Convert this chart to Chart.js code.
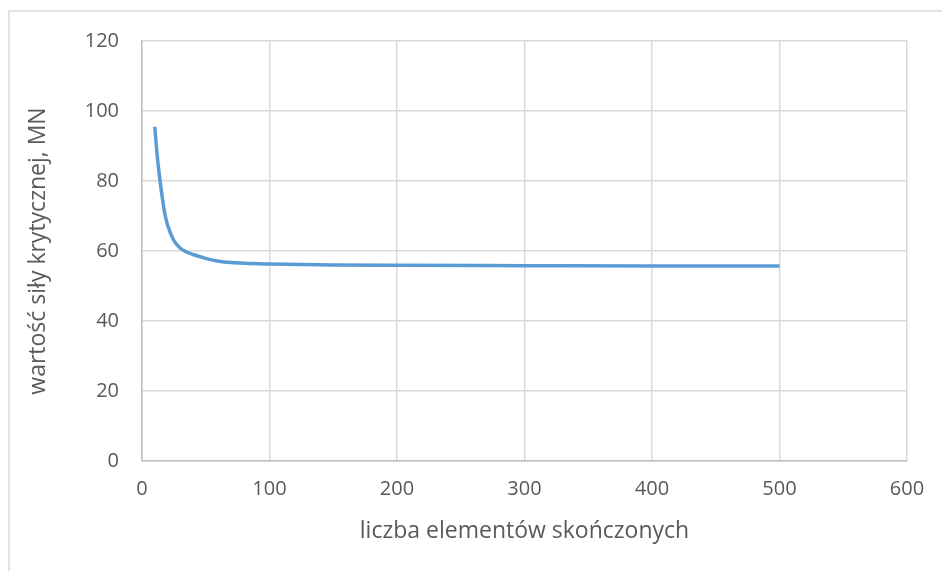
<!DOCTYPE html>
<html>
<head>
<meta charset="utf-8">
<script src="https://cdn.jsdelivr.net/npm/chart.js@4"></script>
<style>
  html, body { margin: 0; padding: 0; background: #fff; }
  canvas { display: block; }
</style>
</head>
<body>
<canvas id="chart" width="942" height="571"></canvas>
<script>
// liczba elementów vs siła krytyczna
const elements = [10, 12, 14, 16, 18, 20, 25, 30, 35, 40, 50, 60, 70, 80, 100, 150, 200, 300, 400, 500];
const force = [95.5, 87, 80.5, 75, 70.5, 67.5, 63, 60.8, 59.7, 59, 57.9, 57.1, 56.7, 56.5, 56.3, 56.0, 55.9, 55.8, 55.7, 55.7];

const xTicks = [0, 100, 200, 300, 400, 500, 600];
const yTicks = [0, 20, 40, 60, 80, 100, 120];

const textColor = "#595959";
const gridColor = "#d9d9d9";
const fontFamily = "'Open Sans', sans-serif";

const points = elements.map((x, i) => ({ x, y: force[i] }));

const framePlugin = {
  id: "frame",
  beforeDraw(chart) {
    const ctx = chart.ctx;
    ctx.save();
    ctx.strokeStyle = gridColor;
    ctx.lineWidth = 1.5;
    ctx.beginPath();
    ctx.moveTo(9, 600);
    ctx.lineTo(9, 11);
    ctx.lineTo(950, 11);
    ctx.stroke();
    ctx.restore();
  }
};

new Chart(document.getElementById("chart"), {
  type: "scatter",
  data: {
    datasets: [{
      data: points,
      showLine: true,
      borderColor: "#5b9bd5",
      borderWidth: 3.5,
      pointRadius: 0,
      cubicInterpolationMode: "monotone",
      fill: false
    }]
  },
  options: {
    responsive: false,
    animation: false,
    layout: { padding: { left: 20, right: 35, top: 41, bottom: 20 } },
    plugins: { legend: { display: false }, tooltip: { enabled: false } },
    scales: {
      x: {
        type: "linear",
        min: 0,
        max: 600,
        afterBuildTicks: s => { s.ticks = xTicks.map(v => ({ value: v })); },
        afterFit: s => { s.height = 90; },
        ticks: { color: textColor, font: { family: fontFamily, size: 20 }, padding: 16 },
        grid: { color: gridColor, lineWidth: 1.5, drawTicks: false },
        border: { color: "#bfbfbf", width: 1.5 },
        title: {
          display: true,
          text: "liczba elementów skończonych",
          color: textColor,
          font: { family: fontFamily, size: 23 },
          padding: { top: 0, bottom: 6 }
        }
      },
      y: {
        min: 0,
        max: 120,
        afterBuildTicks: s => { s.ticks = yTicks.map(v => ({ value: v })); },
        afterFit: s => { s.width = 122; },
        ticks: { color: textColor, font: { family: fontFamily, size: 20 }, padding: 23 },
        grid: { color: gridColor, lineWidth: 1.5, drawTicks: false },
        border: { color: "#bfbfbf", width: 1.5 },
        title: {
          display: true,
          text: "wartość siły krytycznej, MN",
          color: textColor,
          font: { family: fontFamily, size: 23 },
          padding: { top: 5, bottom: 0 }
        }
      }
    }
  },
  plugins: [framePlugin]
});
</script>
</body>
</html>
